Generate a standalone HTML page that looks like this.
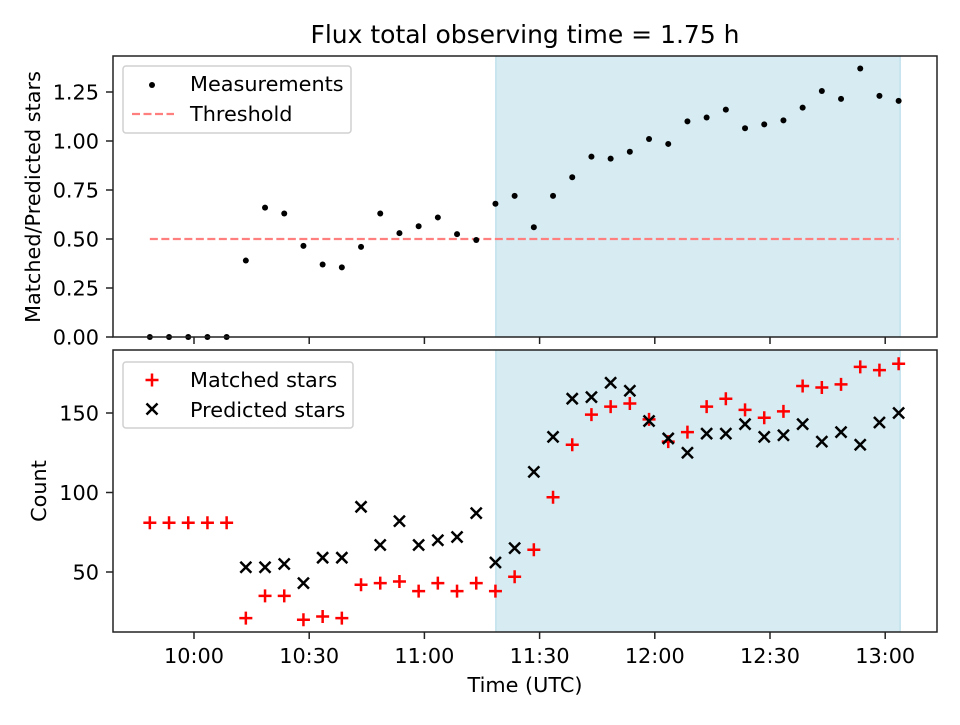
<!DOCTYPE html>
<html><head><meta charset="utf-8"><style>
body{margin:0;background:#fff}
svg{font-family:"DejaVu Sans","Liberation Sans",sans-serif}
</style></head><body>
<svg id="c" width="960" height="720" xmlns="http://www.w3.org/2000/svg"></svg>
<script>
const minutes = [];
for (let k = 0; k < 40; k++) minutes.push(-11.5 + 5 * k);
const ratio = [0,0,0,0,0,0.39,0.66,0.63,0.465,0.37,0.355,0.46,0.63,0.53,0.565,0.61,0.525,0.495,0.68,0.72,0.56,0.72,0.815,0.92,0.91,0.945,1.01,0.985,1.10,1.12,1.16,1.065,1.085,1.105,1.17,1.255,1.215,1.37,1.23,1.205];
const matched = [81,81,81,81,81,21,35,35,20,22,21,42,43,44,38,43,38,43,38,47,64,97,130,149,154,156,146,132,138,154,159,152,147,151,167,166,168,179,177,181];
const predicted = [null,null,null,null,null,53,53,55,43,59,59,91,67,82,67,70,72,87,56,65,113,135,159,160,169,164,145,134,125,137,137,143,135,136,143,132,138,130,144,150];
const threshold = 0.5;
const shadeStart = 78.6, shadeEnd = 183.9;
const topTicks = [0,0.25,0.5,0.75,1.0,1.25];
const topTickLabels = ["0.00","0.25","0.50","0.75","1.00","1.25"];
const botTicks = [50,100,150];
const xTicks = [0,30,60,90,120,150,180];
const xTickLabels = ["10:00","10:30","11:00","11:30","12:00","12:30","13:00"];

const svg = document.getElementById('c');
const NS = 'http://www.w3.org/2000/svg';
function mk(tag, attrs, parent){const e=document.createElementNS(NS,tag);for(const k in attrs)e.setAttribute(k,attrs[k]);(parent||svg).appendChild(e);return e;}
const X = m => 194 + m * 3.84;
const Yt = v => 337 - v * 196;
const Yb = v => 572 - (v - 50) * 1.59;
const L=113,R=937;
const FS=20.8;

let g;
g = mk('rect',{x:X(shadeStart),y:56,width:X(shadeEnd)-X(shadeStart),height:281,fill:'#add8e6','fill-opacity':0.5,stroke:'#add8e6'});


g = mk('rect',{x:X(shadeStart),y:350,width:X(shadeEnd)-X(shadeStart),height:282,fill:'#add8e6','fill-opacity':0.5,stroke:'#add8e6'});



g = mk('line',{x1:X(minutes[0]),x2:X(minutes[39]),y1:Yt(threshold),y2:Yt(threshold),stroke:'#ff7f7f','stroke-width':2.2,'stroke-dasharray':'8,3.5'});



ratio.forEach((v,i)=>{const c=mk('circle',{cx:X(minutes[i]),cy:Yt(v),r:3,fill:'#000'});

});

function plus(x,y,name){const p=mk('path',{d:`M${x-6.5},${y}H${x+6.5}M${x},${y-6.5}V${y+6.5}`,stroke:'#f00','stroke-width':2.5});

}
function cross(x,y,name){const p=mk('path',{d:`M${x-5.5},${y-5.5}L${x+5.5},${y+5.5}M${x-5.5},${y+5.5}L${x+5.5},${y-5.5}`,stroke:'#000','stroke-width':2.5});

}
matched.forEach((v,i)=>plus(X(minutes[i]),Yb(v),'matched-point'));
predicted.forEach((v,i)=>{if(v!==null)cross(X(minutes[i]),Yb(v),'predicted-point');});

[[56,337,'top-axes-frame'],[350,632,'bottom-axes-frame']].forEach(([t,b,n])=>{const r=mk('rect',{x:L,y:t,width:R-L,height:b-t,fill:'none',stroke:'#222','stroke-width':1.5});

});

function txt(s,attrs,name){const t=mk('text',attrs);t.textContent=s;

return t;}
topTicks.forEach((v,i)=>{mk('line',{x1:L-7,x2:L,y1:Yt(v),y2:Yt(v),stroke:'#222','stroke-width':1.5});
txt(topTickLabels[i],{x:L-14,y:Yt(v)+7.5,'text-anchor':'end','font-size':FS},'y-tick-label-top');});
botTicks.forEach(v=>{mk('line',{x1:L-7,x2:L,y1:Yb(v),y2:Yb(v),stroke:'#222','stroke-width':1.5});
txt(String(v),{x:L-14,y:Yb(v)+7.5,'text-anchor':'end','font-size':FS},'y-tick-label-bottom');});
xTicks.forEach((m,i)=>{mk('line',{x1:X(m),x2:X(m),y1:337,y2:344,stroke:'#222','stroke-width':1.5});
mk('line',{x1:X(m),x2:X(m),y1:632,y2:639,stroke:'#222','stroke-width':1.5});
txt(xTickLabels[i],{x:X(m),y:663,'text-anchor':'middle','font-size':FS},'x-tick-label');});

txt('Flux total observing time = 1.75 h',{x:525,y:43,'text-anchor':'middle','font-size':25},'chart-title');
txt('Time (UTC)',{x:525,y:692,'text-anchor':'middle','font-size':FS},'x-axis-title');
txt('Matched/Predicted stars',{x:0,y:0,transform:'translate(40,197) rotate(-90)','text-anchor':'middle','font-size':FS},'y-axis-title-top');
txt('Count',{x:0,y:0,transform:'translate(46,491) rotate(-90)','text-anchor':'middle','font-size':FS},'y-axis-title-bottom');

g=mk('rect',{x:123,y:66,width:228,height:67,rx:3,fill:'#fff','fill-opacity':0.8,stroke:'#d0d0d0','stroke-width':1.5});


mk('circle',{cx:152,cy:85,r:3,fill:'#000'});
txt('Measurements',{x:190,y:91,'font-size':FS},'legend-entry-measurements');
mk('line',{x1:132,x2:174,y1:114,y2:114,stroke:'#ff7f7f','stroke-width':2.2,'stroke-dasharray':'8,3.5'});
txt('Threshold',{x:190,y:121,'font-size':FS},'legend-entry-threshold');

g=mk('rect',{x:123,y:362,width:230,height:66,rx:3,fill:'#fff','fill-opacity':0.8,stroke:'#d0d0d0','stroke-width':1.5});


plus(152,380,'legend-marker-matched');
txt('Matched stars',{x:190,y:387,'font-size':FS},'legend-entry-matched');
cross(152,409,'legend-marker-predicted');
txt('Predicted stars',{x:190,y:417,'font-size':FS},'legend-entry-predicted');
</script>
</body></html>
